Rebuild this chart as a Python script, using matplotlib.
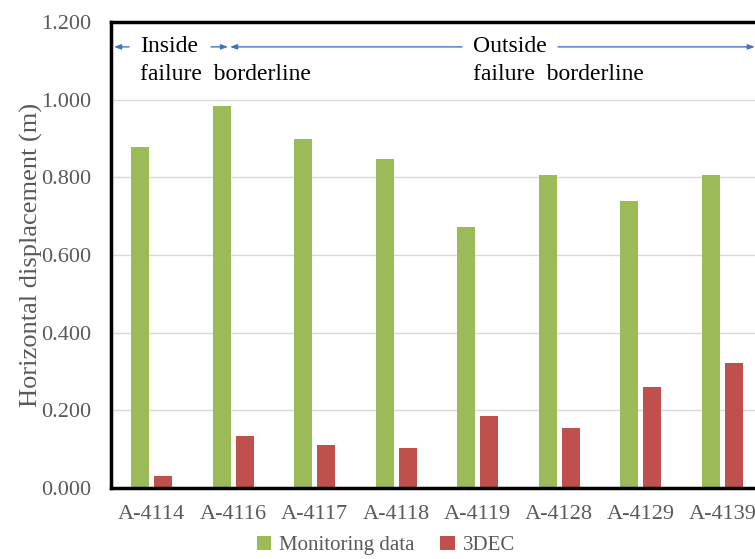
import matplotlib
matplotlib.use("Agg")
import matplotlib.pyplot as plt
import numpy as np

plt.rcParams['font.family'] = ['Liberation Serif', 'DejaVu Serif']

stations = ["A-4114", "A-4116", "A-4117", "A-4118", "A-4119", "A-4128", "A-4129", "A-4139"]
monitoring = [0.878, 0.984, 0.899, 0.847, 0.672, 0.806, 0.739, 0.806]
dec3 = [0.031, 0.134, 0.111, 0.103, 0.185, 0.155, 0.260, 0.322]

green = "#9bbb59"
red = "#c0504d"
blue = "#4472c4"
grey = "#595959"

fig = plt.figure(figsize=(7.55, 5.59), dpi=100)
# right part of the axes is cut off by the figure edge, as in the reference
ax = fig.add_axes([0.147, 0.127, 0.8636, 0.8336])

x = np.arange(len(stations))
w = 0.22
ax.bar(x - 0.141, monitoring, w, color=green, label="Monitoring data", zorder=3)
ax.bar(x + 0.141, dec3, w, color=red, label="3DEC", zorder=3)

ax.set_xlim(-0.5, len(stations) - 0.5)
ax.set_ylim(0, 1.2)
ax.set_yticks(np.arange(0, 1.21, 0.2))
ax.set_yticklabels([f"{v:.3f}" for v in np.arange(0, 1.21, 0.2)])
ax.set_xticks(x)
ax.set_xticklabels(stations)
ax.tick_params(axis="both", length=0, labelsize=16, labelcolor=grey)
ax.tick_params(axis="x", pad=12)
ax.tick_params(axis="y", pad=14)
ax.grid(axis="y", color="#d9d9d9", lw=1, zorder=0)

for s in ["left", "top", "bottom", "right"]:
    ax.spines[s].set_linewidth(2.5)
    ax.spines[s].set_color("black")
    ax.spines[s].set_zorder(4)

ax.set_ylabel("Horizontal displacement (m)", fontsize=19, color=grey, labelpad=-1)

# boundary annotations
ya = 1.136
arr = dict(arrowstyle="-|>,head_length=0.4,head_width=0.15", color=blue, lw=1.0,
           shrinkA=0, shrinkB=0)
ax.annotate("", xy=(-0.463, ya), xytext=(-0.279, ya), arrowprops=arr)
ax.annotate("", xy=(0.936, ya), xytext=(0.727, ya), arrowprops=arr)
ax.annotate("", xy=(0.960, ya), xytext=(3.807, ya), arrowprops=arr)
ax.annotate("", xy=(7.40, ya), xytext=(4.985, ya), arrowprops=arr, annotation_clip=False)

ax.text(-0.144, ya, "Inside", fontsize=17, va="center", ha="left")
ax.text(-0.144, 1.066, "failure  borderline", fontsize=17, va="center", ha="left")
ax.text(3.94, ya, "Outside", fontsize=17, va="center", ha="left")
ax.text(3.94, 1.066, "failure  borderline", fontsize=17, va="center", ha="left")

leg = fig.legend(loc="center", bbox_to_anchor=(0.511, 0.024), ncol=2, frameon=False,
                 fontsize=15, handlelength=0.7, handleheight=0.7, handletextpad=0.4,
                 columnspacing=1.2)
for t in leg.get_texts():
    t.set_color(grey)

fig.savefig("out.png", dpi=100)
